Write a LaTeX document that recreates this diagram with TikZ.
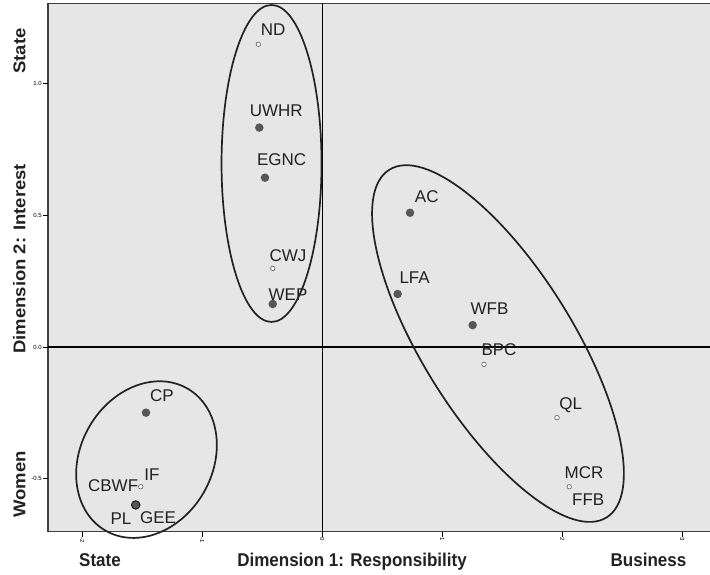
\documentclass[tikz,border=0pt]{standalone}
\usepackage{fontspec}
\setmainfont{Liberation Sans}
\definecolor{plotbg}{HTML}{E6E6E6}
\definecolor{dotgray}{HTML}{575757}
\definecolor{inkgray}{HTML}{222222}
\begin{document}
\begin{tikzpicture}[
        x=120pt, y=263.7pt,
        full/.style={circle, fill=dotgray, inner sep=0pt, minimum size=8.5pt},
        hollow/.style={circle, draw=dotgray, fill=white, line width=0.6pt, inner sep=0pt, minimum size=4.5pt},
        lbl/.style={anchor=base, inner sep=0pt, text=inkgray, font=\fontsize{17}{20}\selectfont},
        axtitle/.style={anchor=base, inner sep=0pt, text=inkgray, xscale=0.92, font=\bfseries\fontsize{18.5}{22}\selectfont},
        ticklbl/.style={inner sep=0pt, font=\fontsize{6}{7}\selectfont},
        group/.style={draw=inkgray, line width=1.7pt}
    ]
    \useasboundingbox (-322.3pt,-228pt) rectangle (387.7pt,347pt);

    % Plot area
    \fill[plotbg] (-2.286,-0.6997) rectangle (3.231,1.3026);
    \draw[line width=1.2pt, black!75] (3.231,1.3026) -- (-2.286,1.3026) -- (-2.286,-0.6997) -- (3.231,-0.6997);
    \draw[line width=1.1pt] (0,-0.6997) -- (0,1.3026);
    \draw[line width=1.1pt] (-2.286,0) -- (3.231,0);

    % Ticks
    \foreach \t in {-2,...,3} {
        \draw[line width=0.8pt] (\t,-0.6997) -- ++(0,-5pt);
        \node[ticklbl, rotate=-90, anchor=west] at ([yshift=-6pt]\t,-0.6997) {\t};
    }
    \foreach \t/\s in {-0.5/-0.5, 0/0.0, 0.5/0.5, 1/1.0} {
        \draw[line width=0.8pt] (-2.286,\t) -- ++(-5pt,0);
        \node[ticklbl, anchor=east] at ([xshift=-6pt]-2.286,\t) {\s};
    }

    % Groups
    \draw[group] (-0.423,0.696) ellipse [x radius=50pt, y radius=158.5pt];
    \draw[group, shift={(1.464,0.013)}, rotate=-58] (0,0) ellipse [x radius=205pt, y radius=75pt];
    \draw[group, shift={(-1.465,-0.427)}, rotate=60] (0,0) ellipse [x radius=82pt, y radius=66pt];

    % Points
    \node[hollow] (nd) at (-0.533,1.148) {};
    \node[full] (uwhr) at (-0.525,0.832) {};
    \node[full] (egnc) at (-0.4775,0.642) {};
    \node[hollow] (cwj) at (-0.413,0.298) {};
    \node[full] (wep) at (-0.413,0.163) {};
    \node[full] (ac) at (0.731,0.509) {};
    \node[full] (lfa) at (0.628,0.201) {};
    \node[full] (wfb) at (1.253,0.083) {};
    \node[hollow] (bpc) at (1.3475,-0.066) {};
    \node[hollow] (ql) at (1.956,-0.268) {};
    \node[hollow] (mcr) at (2.058,-0.530) {};
    \node[full] (cp) at (-1.469,-0.249) {};
    \node[hollow] (cbwf) at (-1.513,-0.530) {};
    \node[full, draw=black, line width=0.8pt] (gee) at (-1.555,-0.599) {};

    % Labels
    \node[lbl] (ndl) at ([shift={(14.7pt,8.3pt)}]nd.center) {ND};
    \node[lbl] (uwhrl) at ([shift={(17pt,11pt)}]uwhr.center) {UWHR};
    \node[lbl] (egncl) at ([shift={(16.7pt,12pt)}]egnc.center) {EGNC};
    \node[lbl] (cwjl) at ([shift={(15.3pt,6.6pt)}]cwj.center) {CWJ};
    \node[lbl] (wepl) at ([shift={(15.3pt,4pt)}]wep.center) {WEP};
    \node[lbl] (acl) at ([shift={(16.7pt,10.4pt)}]ac.center) {AC};
    \node[lbl] (lfal) at ([shift={(17pt,10.7pt)}]lfa.center) {LFA};
    \node[lbl] (wfbl) at ([shift={(16.8pt,11pt)}]wfb.center) {WFB};
    \node[lbl] (bpcl) at ([shift={(15pt,9.3pt)}]bpc.center) {BPC};
    \node[lbl] (qll) at ([shift={(13.8pt,7.7pt)}]ql.center) {QL};
    \node[lbl] (mcrl) at ([shift={(14.7pt,8.4pt)}]mcr.center) {MCR};
    \node[lbl] (ffbl) at ([shift={(19pt,-19pt)}]mcr.center) {FFB};
    \node[lbl] (cpl) at ([shift={(15.8pt,11pt)}]cp.center) {CP};
    \node[lbl] (ifl) at ([shift={(11.3pt,6.7pt)}]cbwf.center) {IF};
    \node[lbl, anchor=base east] (cbwfl) at ([shift={(-2.4pt,-5pt)}]cbwf.center) {CBWF};
    \node[lbl] (pll) at ([shift={(-14.7pt,-20pt)}]gee.center) {PL};
    \node[lbl] (geel) at ([shift={(22.3pt,-19pt)}]gee.center) {GEE};

    % Axis titles
    \node[axtitle] (xstate) at (-222.3pt,-220pt) {State};
    \node[axtitle] (xdim) at (29.7pt,-220pt) {Dimension 1: Responsibility};
    \node[axtitle] (xbus) at (326.2pt,-220pt) {Business};
    \node[axtitle, rotate=90] (ystate) at (-296.8pt,296pt) {State};
    \node[axtitle, rotate=90] (ydim) at (-296.8pt,88.2pt) {Dimension 2: Interest};
    \node[axtitle, rotate=90] (ywomen) at (-296.8pt,-137.6pt) {Women};
\end{tikzpicture}
\end{document}
